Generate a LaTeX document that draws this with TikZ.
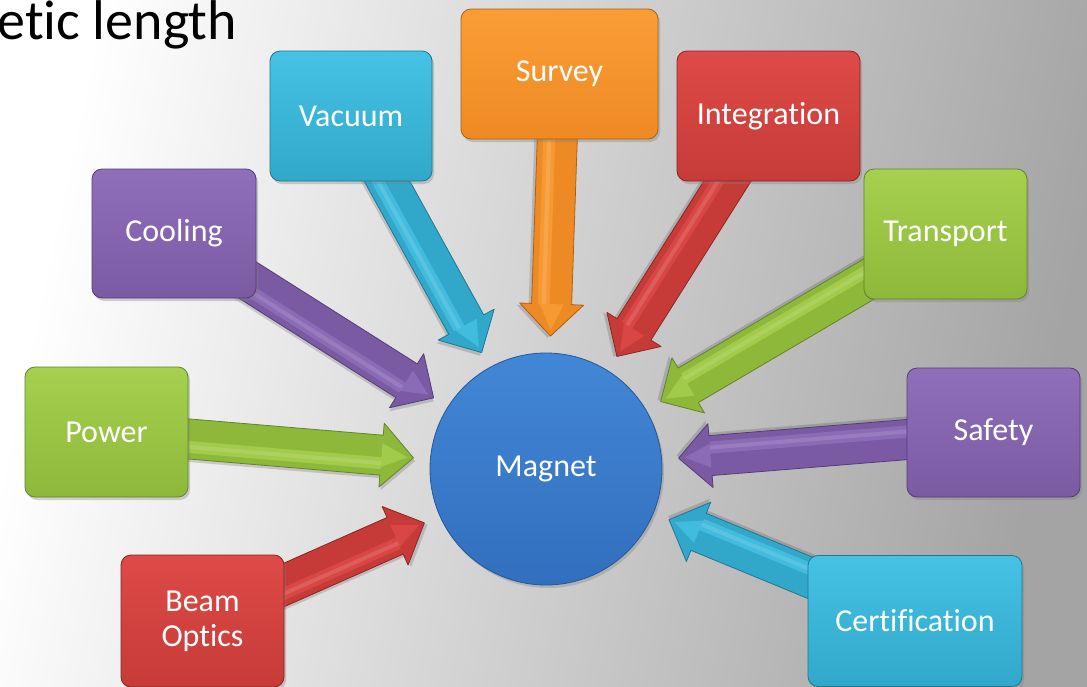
\documentclass[tikz,border=0pt]{standalone}
\usepackage{fontspec}
\setmainfont[Ligatures={NoCommon}]{Carlito}
\usetikzlibrary{calc,shadows}
\pgfdeclarelayer{bg}
\pgfdeclarelayer{arrows}
\pgfsetlayers{bg,arrows,main}

\definecolor{bgR}{HTML}{A4A4A4}
\definecolor{purpL}{HTML}{8F6FBA}\definecolor{purpM}{HTML}{7A5BA3}\definecolor{purpD}{HTML}{553C78}
\definecolor{cyanL}{HTML}{45C2E4}\definecolor{cyanM}{HTML}{31A8CA}\definecolor{cyanD}{HTML}{1E7893}
\definecolor{oranL}{HTML}{FA9D36}\definecolor{oranM}{HTML}{EE8A23}\definecolor{oranD}{HTML}{B0600F}
\definecolor{redL}{HTML}{DE4A47}\definecolor{redM}{HTML}{C63B38}\definecolor{redD}{HTML}{8A2523}
\definecolor{grnL}{HTML}{A6D04E}\definecolor{grnM}{HTML}{8DB83A}\definecolor{grnD}{HTML}{62842A}
\definecolor{bluL}{HTML}{4287D6}\definecolor{bluM}{HTML}{326FBE}\definecolor{bluD}{HTML}{24579A}

\tikzset{
  box/.style={rounded corners=10pt, draw=#1D, line width=0.8pt,
    top color=#1L, bottom color=#1M, text=white, align=center,
    font=\fontsize{32}{36}\selectfont, inner sep=0pt,
    drop shadow={opacity=0.35, shadow xshift=2pt, shadow yshift=-3pt}},
  hub/.style={circle, draw=bluD, line width=0.8pt, top color=bluL, bottom color=bluM,
    text=white, font=\fontsize{32}{36}\selectfont, minimum size=232pt, inner sep=0pt,
    drop shadow={opacity=0.35, shadow xshift=2pt, shadow yshift=-3pt}},
  title/.style={font=\fontsize{56}{64}\selectfont, text=black, inner sep=0pt}
}

\newcommand\blockarrow[2]{%
  \path let \p1=(#1.center), \p2=($(mag.center)!133pt!(#1.center)$) in
    \pgfextra{%
      \pgfmathsetmacro\tmpA{atan2(\y2-\y1,\x2-\x1)}%
      \pgfmathsetmacro\tmpL{veclen(\x2-\x1,\y2-\y1)}%
      \xdef\Baang{\tmpA}\xdef\Balen{\tmpL}};
  \pgfmathsetmacro\Bhb{\Balen-32}%
  \begin{scope}[shift={(#1.center)}, rotate=\Baang]
    \fill[black, opacity=0.15, xshift=2pt, yshift=-3pt]
      (0pt,20pt) -- (\Bhb pt,20pt) -- (\Bhb pt,32pt) -- (\Balen pt,0pt) --
      (\Bhb pt,-32pt) -- (\Bhb pt,-20pt) -- (0pt,-20pt) -- cycle;
    \filldraw[fill=#2M, draw=#2D, line width=0.8pt, line join=round]
      (0pt,20pt) -- (\Bhb pt,20pt) -- (\Bhb pt,32pt) -- (\Balen pt,0pt) --
      (\Bhb pt,-32pt) -- (\Bhb pt,-20pt) -- (0pt,-20pt) -- cycle;
    \fill[#2L, opacity=0.8]
      (0pt,-2pt) -- (\Bhb pt,-2pt) -- (\Bhb pt,12pt) -- (\Balen pt-6pt,0pt) --
      (\Bhb pt,-12pt) -- (\Bhb pt,-14pt) -- (0pt,-14pt) -- cycle;
    \fill[white, opacity=0.12]
      (0pt,-6pt) -- (\Bhb pt,-6pt) -- (\Bhb pt,-10pt) -- (0pt,-10pt) -- cycle;
  \end{scope}}

\begin{document}
\begin{tikzpicture}[x=1pt,y=-1pt]
\useasboundingbox (0,0) rectangle (1087,686);
\begin{pgfonlayer}{bg}
  \shade[left color=white, right color=bgR, shading angle=78] (0,0) rectangle (1087,686);
\end{pgfonlayer}

\node[title, anchor=base east] (ttl) at (237,39) {etic length};

\node[hub] (mag) at (546,469) {Magnet};

\node[box=cyan, minimum width=162pt, minimum height=130pt] (vac) at (351,116) {Vacuum};
\node[box=oran, minimum width=197pt, minimum height=130pt] (surv) at (559.5,74) {Survey};
\node[box=red,  minimum width=183pt, minimum height=130pt] (integ) at (768.5,116) {Integration};
\node[box=purp, minimum width=164pt, minimum height=129pt] (cool) at (174,233.5) {Cooling};
\node[box=grn,  minimum width=163pt, minimum height=130pt] (trans) at (945.5,234) {Transport};
\node[box=grn,  minimum width=163pt, minimum height=130pt] (pow) at (106.5,432) {Power};
\node[box=purp, minimum width=173pt, minimum height=129pt] (saf) at (993.5,432.5) {Safety};
\node[box=red,  minimum width=163pt, minimum height=132pt] (beam) at (202.5,621) {Beam\\[-1pt]Optics};
\node[box=cyan, minimum width=214pt, minimum height=131pt] (cert) at (915,621) {Certification};

\begin{pgfonlayer}{arrows}
  \blockarrow{vac}{cyan}
  \blockarrow{surv}{oran}
  \blockarrow{integ}{red}
  \blockarrow{cool}{purp}
  \blockarrow{trans}{grn}
  \blockarrow{pow}{grn}
  \blockarrow{saf}{purp}
  \blockarrow{beam}{red}
  \blockarrow{cert}{cyan}
\end{pgfonlayer}
\end{tikzpicture}
\end{document}
